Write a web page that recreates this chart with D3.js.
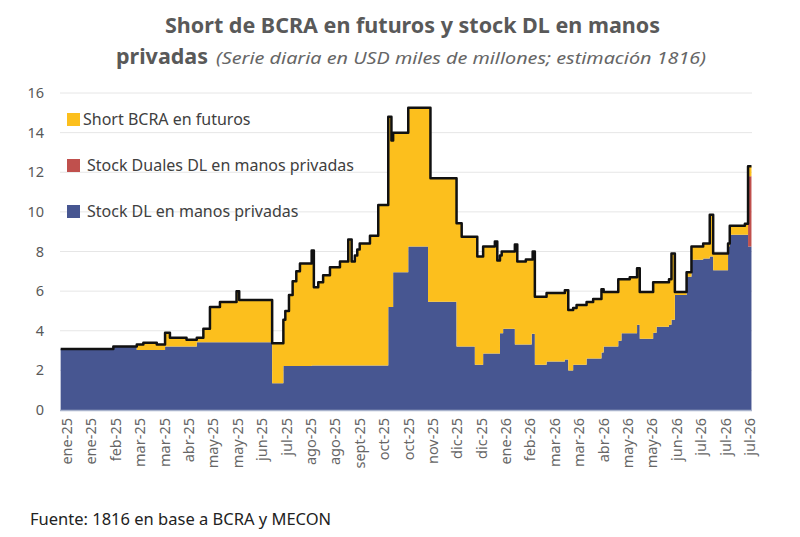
<!doctype html>
<html>
<head>
<meta charset="utf-8">
<script src="https://cdn.jsdelivr.net/npm/d3@7"></script>
<style>
  body { margin: 0; background: #fff; font-family: "Noto Sans", "Open Sans", sans-serif; }
</style>
</head>
<body>
<svg width="800" height="537"></svg>
<script>
// x labels (evenly spaced ticks, index units)
var tickLabels = ["ene-25","ene-25","feb-25","mar-25","mar-25","abr-25","may-25","may-25","jun-25","jul-25",
  "ago-25","ago-25","sept-25","oct-25","oct-25","nov-25","dic-25","dic-25","ene-26","feb-26",
  "mar-26","mar-26","abr-26","may-26","may-26","jun-26","jul-26","jul-26","jul-26"];

// breakpoints (tick-index position), step series
var t =      [-0.26,1.9,2.86,3.13,3.68,4.02,4.22,4.9,5.32,5.59,5.86,6.27,6.95,7.06,8.41,8.87,8.95,9.1,9.25,9.4,9.55,10.03,10.12,10.3,10.5,10.78,11.19,11.53,11.67,11.8,11.9,12.0,12.42,12.76,13.17,13.3,13.37,13.99,14.8,14.9,15.97,16.18,16.72,16.82,17.06,17.54,17.64,17.75,17.82,17.88,18.36,18.46,18.81,19.05,19.09,19.18,19.66,20.41,20.55,20.75,20.89,21.3,21.57,21.91,22.0,22.6,22.73,23.07,23.37,23.48,24.03,24.17,24.68,24.78,24.92,25.4,25.6,26.08,26.35,26.49,27.1,27.17,27.79,27.92,28.06];
var stockDL = [3.08,3.2,3.03,3.03,3.03,3.2,3.2,3.2,3.42,3.42,3.42,3.42,3.42,3.42,1.35,2.22,2.22,2.22,2.22,2.22,2.22,2.25,2.25,2.25,2.25,2.25,2.25,2.25,2.25,2.25,2.25,2.25,2.25,2.25,5.2,5.2,6.95,8.25,5.47,5.47,3.2,3.2,2.28,2.28,2.85,2.85,2.85,3.88,3.88,4.1,3.3,3.3,3.3,3.85,3.85,2.28,2.45,2.55,2.0,2.28,2.28,2.6,2.6,2.9,3.2,3.5,3.88,3.88,4.3,3.6,3.9,4.2,4.3,4.55,5.8,6.73,7.58,7.65,7.75,7.05,8.25,8.84,8.84,8.25,8.25];
var duales =  t.map(function() { return 0; });
duales[t.length - 2] = 3.55; duales[t.length - 1] = 3.55;
var total =  [3.08,3.2,3.3,3.4,3.3,3.9,3.65,3.55,3.65,4.1,5.2,5.45,6.0,5.55,3.37,4.55,5.0,5.8,6.5,7.0,7.4,8.05,6.2,6.45,6.8,7.2,7.5,8.6,7.5,7.8,8.1,8.4,8.8,10.35,14.8,13.6,14.0,15.25,15.25,11.7,9.43,8.75,8.75,7.75,8.25,8.5,7.55,7.8,8.0,8.0,8.35,7.5,7.6,7.6,8.0,5.72,5.9,6.05,5.05,5.15,5.3,5.45,5.6,6.1,5.95,6.6,6.6,6.7,7.15,5.95,6.45,6.45,6.6,7.9,5.95,6.95,8.25,8.4,9.85,7.9,8.4,9.3,9.4,12.3,12.3];
var yTicks = [0,2,4,6,8,10,12,14,16];

var series = ["Stock DL en manos privadas", "Stock Duales DL en manos privadas", "Short BCRA en futuros"];
var colors = ["#475691", "#c0504d", "#fcbf1d"];

var data = t.map(function(d, i) {
  return { t: d, dl: stockDL[i], duales: duales[i], short: Math.max(0, total[i] - stockDL[i] - duales[i]), total: total[i] };
});

var svg = d3.select("svg");
var x = d3.scaleLinear().domain([0, 28]).range([67, 750]);
var y = d3.scaleLinear().domain([0, 16]).range([410, 93]);

// grid
svg.append("g").selectAll("line").data(yTicks.filter(function(d) { return d > 0; })).enter().append("line")
  .attr("x1", 60).attr("x2", 752).attr("y1", y).attr("y2", y)
  .attr("stroke", "#e6e6e6").attr("stroke-width", 1);

svg.append("g").selectAll("text").data(yTicks).enter().append("text")
  .attr("x", 44).attr("y", function(d) { return y(d) + 5; })
  .attr("text-anchor", "end").attr("font-size", 14.5).attr("fill", "#595959").text(function(d) { return d; });

var stack = d3.stack().keys(["dl", "duales", "short"]);
var area = d3.area().curve(d3.curveStepAfter)
  .x(function(d) { return x(d.data.t); })
  .y0(function(d) { return y(d[0]); })
  .y1(function(d) { return y(d[1]); });

svg.append("g").selectAll("path").data(stack(data)).enter().append("path")
  .attr("d", area).attr("fill", function(d, i) { return colors[i]; });

svg.append("path").datum(data)
  .attr("d", d3.line().curve(d3.curveStepAfter).x(function(d) { return x(d.t); }).y(function(d) { return y(d.total); }))
  .attr("fill", "none").attr("stroke", "#111").attr("stroke-width", 2.5).attr("stroke-linejoin", "round");

// baseline
svg.append("line").attr("x1", 60).attr("x2", 752).attr("y1", 410.5).attr("y2", 410.5)
  .attr("stroke", "#a9b3cc").attr("stroke-width", 1.5);

// x labels
svg.append("g").selectAll("text").data(tickLabels).enter().append("text")
  .attr("transform", function(d, i) { return "translate(" + (x(i) + 5) + ",418) rotate(-90)"; })
  .attr("text-anchor", "end").attr("font-size", 14.5).attr("fill", "#666").text(function(d) { return d; });

// legend
var legendOrder = [2, 1, 0];
var lg = svg.append("g").selectAll("g").data(legendOrder).enter().append("g")
  .attr("transform", function(d, i) { return "translate(67," + (113 + i * 46) + ")"; });
lg.append("rect").attr("width", 13).attr("height", 13).attr("fill", function(d) { return colors[d]; });
lg.append("text").attr("x", function(d) { return d === 2 ? 16 : 20; }).attr("y", 12).attr("font-size", 16).attr("fill", "#404040")
  .text(function(d) { return series[d]; });

// titles
svg.append("text").attr("x", 165).attr("y", 33).attr("textLength", 495).attr("lengthAdjust", "spacingAndGlyphs")
  .attr("font-size", 21).attr("font-weight", "bold").attr("fill", "#595959")
  .text("Short de BCRA en futuros y stock DL en manos");
svg.append("text").attr("x", 116).attr("y", 64).attr("textLength", 92).attr("lengthAdjust", "spacingAndGlyphs")
  .attr("font-size", 21).attr("font-weight", "bold").attr("fill", "#595959").text("privadas");
svg.append("text").attr("x", 216).attr("y", 64).attr("textLength", 490).attr("lengthAdjust", "spacingAndGlyphs")
  .attr("font-size", 17).attr("font-style", "italic").attr("fill", "#666")
  .text("(Serie diaria en USD miles de millones; estimación 1816)");

svg.append("text").attr("x", 30).attr("y", 525).attr("font-size", 16.5).attr("fill", "#222")
  .text("Fuente: 1816 en base a BCRA y MECON");
</script>
</body>
</html>
